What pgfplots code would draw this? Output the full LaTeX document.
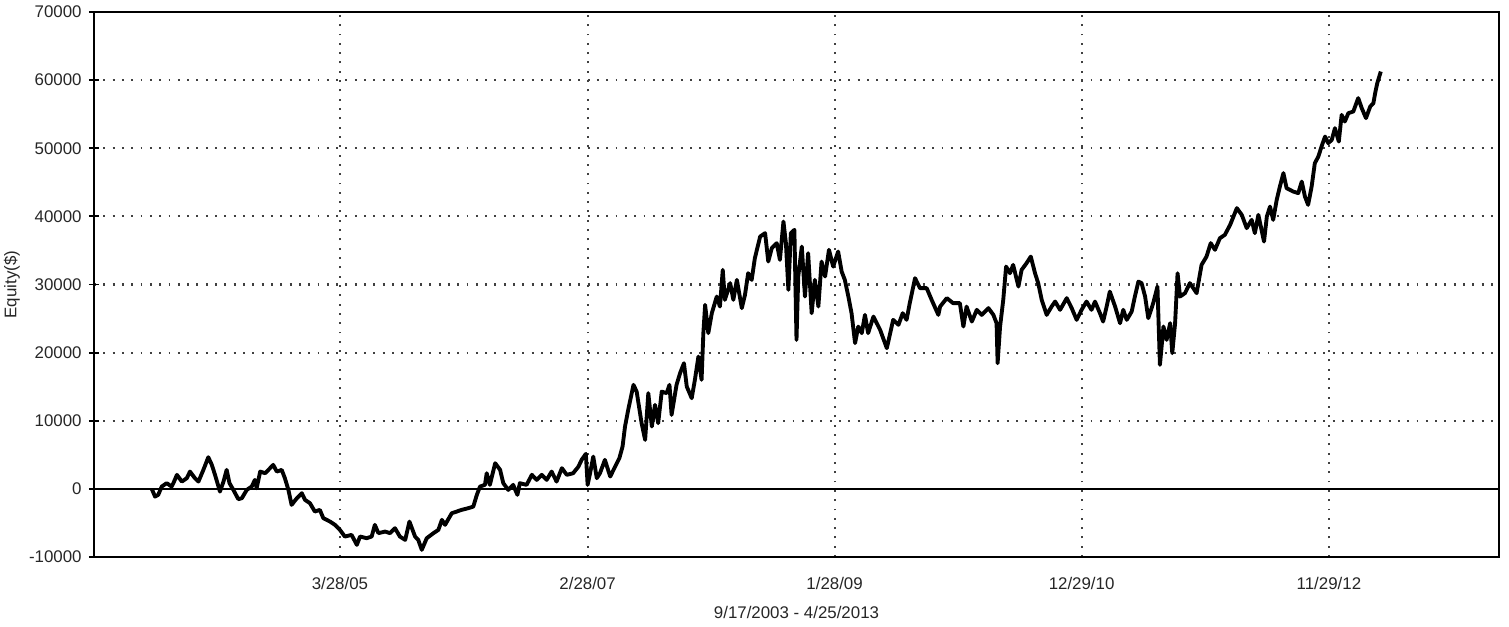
\documentclass[border=0pt]{standalone}
\usepackage{fontspec}
\setmainfont{Liberation Sans}
\usepackage{pgfplots}
\pgfplotsset{compat=1.18}

\begin{document}
\begin{tikzpicture}
% page size: 1509x626 px at 0.1 mm per px, axis box starts at (0,0)
\useasboundingbox (-0.94cm,-0.69cm) rectangle (14.15cm,5.57cm);
\begin{axis}[
    scale only axis,
    width=14.05cm, height=5.45cm,
    xmin=-139, xmax=3843,
    ymin=-10000, ymax=70000,
    axis line style={black, line width=0.55pt},
    xtick={558,1260,1960,2660,3361},
    xticklabels={3/28/05,2/28/07,1/28/09,12/29/10,11/29/12},
    xtick pos=bottom,
    major x tick style={draw=none},
    ytick={-10000,10000,20000,30000,40000,50000,60000,70000},
    yticklabels={-10000,10000,20000,30000,40000,50000,60000,70000},
    ytick pos=left,
    minor y tick num=1,
    tick align=center,
    major tick length=1mm,
    minor tick length=1mm,
    tick style={black, line width=0.5pt},
    extra y ticks={0},
    extra y tick labels={0},
    extra y tick style={grid=major, major grid style={solid, black, line width=0.6pt}},
    grid=major,
    major grid style={black!75, line width=0.6pt, dash pattern=on 0.55pt off 2.1pt},
    tick label style={font=\fontsize{4.8}{5.8}\selectfont, text=black!85},
    xticklabel style={yshift=-0.3mm},
    yticklabel style={xshift=0.5mm},
    xlabel={9/17/2003 - 4/25/2013},
    ylabel={Equity(\$)},
    every axis x label/.style={at={(axis description cs:0.5,-0.1009)}, anchor=center,
        font=\fontsize{4.8}{5.8}\selectfont, text=black!85},
    every axis y label/.style={at={(axis description cs:-0.0584,0.5)}, anchor=center, rotate=90,
        font=\fontsize{4.8}{5.8}\selectfont, text=black!85},
]
\addplot[black, line width=1.1pt, line join=round] coordinates {
(25,-40) (34,-1130) (43,-880) (53,340) (67,840) (81,340) (86,840) (96,2060)
(110,1070) (124,1570) (133,2540) (147,1570) (157,1070) (171,2790) (185,4650)
(195,3520) (204,2060) (218,-400) (228,1070) (237,2790) (245,840) (256,-150)
(270,-1510) (280,-1370) (294,-150) (308,340) (317,1320) (322,100) (332,2540)
(346,2300) (360,3040) (369,3520) (379,2540) (393,2790) (402,1570) (412,-150)
(421,-2350) (436,-1370) (450,-630) (459,-1610) (473,-2100) (487,-3330)
(501,-3080) (511,-4300) (530,-4800) (544,-5280) (558,-6020) (572,-7000)
(591,-6750) (606,-8220) (615,-7000) (634,-7240) (648,-7000) (657,-5280)
(667,-6500) (686,-6270) (700,-6500) (714,-5770) (728,-7000) (743,-7490)
(755,-4800) (771,-7000) (780,-7490) (790,-8950) (804,-7240) (823,-6500)
(837,-6020) (847,-4550) (856,-5280) (875,-3570) (889,-3330) (903,-3080)
(922,-2830) (936,-2600) (946,-880) (955,340) (969,590) (974,2300) (983,590)
(998,3770) (1012,2790) (1021,840) (1035,-150) (1049,590) (1061,-880)
(1068,840) (1087,590) (1102,2060) (1116,1320) (1130,2060) (1144,1320)
(1158,2540) (1172,1070) (1187,3040) (1201,2060) (1219,2300) (1234,3270)
(1243,4260) (1255,5140) (1260,590) (1267,2300) (1276,4740) (1286,1570)
(1295,2300) (1309,4260) (1324,1810) (1338,3270) (1350,4510) (1359,6210)
(1366,9150) (1375,11600) (1390,15270) (1399,14280) (1413,9640) (1423,7190)
(1432,14050) (1442,9150) (1451,12330) (1460,9640) (1470,14280) (1484,14050)
(1492,15270) (1498,10860) (1512,15270) (1522,16980) (1533,18450) (1541,15020)
(1555,13310) (1564,16000) (1574,19420) (1583,16000) (1588,22860) (1593,27010)
(1602,22860) (1612,25790) (1626,28230) (1635,26760) (1643,32150) (1649,27750)
(1664,30200) (1673,27750) (1683,30680) (1697,26530) (1706,28480) (1715,31660)
(1725,30680) (1734,33870) (1749,37040) (1763,37540) (1772,33370) (1782,35340)
(1796,36070) (1805,33620) (1815,39240) (1822,36070) (1829,29210) (1836,37540)
(1846,38020) (1852,21870) (1857,31170) (1867,35570) (1876,28230) (1885,34600)
(1895,25790) (1904,30680) (1914,26760) (1923,33370) (1933,31170) (1944,35090)
(1956,32630) (1970,34840) (1980,31900) (1989,30680) (1999,28230) (2008,25790)
(2018,21390) (2027,23830) (2037,22860) (2046,25540) (2055,22860) (2070,25290)
(2089,23340) (2108,20650) (2126,24810) (2141,24080) (2153,25790) (2164,24810)
(2173,27260) (2188,30930) (2202,29460) (2221,29460) (2235,27750) (2254,25540)
(2259,26760) (2278,28000) (2296,27260) (2315,27260) (2325,23830) (2334,26760)
(2349,24560) (2363,26280) (2377,25540) (2396,26530) (2410,25540) (2419,24320)
(2422,18450) (2429,23830) (2438,27750) (2446,32630) (2457,31660) (2466,32880)
(2481,29700) (2490,32150) (2504,33130) (2516,34100) (2528,31660) (2537,30200)
(2547,27750) (2561,25540) (2575,26760) (2585,27500) (2599,26280) (2618,28000)
(2632,26530) (2646,24810) (2660,26280) (2674,27500) (2688,26280) (2698,27500)
(2712,25790) (2721,24560) (2731,26760) (2740,28960) (2755,26760) (2769,24320)
(2778,26280) (2788,24810) (2802,26030) (2811,28230) (2821,30430) (2830,30200)
(2840,28230) (2849,25060) (2863,27260) (2875,29700) (2882,18200) (2892,23830)
(2901,21870) (2911,24320) (2917,19920) (2925,24320) (2932,31660) (2939,28230)
(2953,28730) (2967,30200) (2986,28730) (3000,32880) (3014,34100) (3026,36070)
(3038,35090) (3052,36800) (3066,37290) (3081,38760) (3100,41210) (3114,40220)
(3128,38270) (3142,39490) (3151,37540) (3161,40220) (3177,36300) (3185,39970)
(3194,41440) (3203,39490) (3213,42430) (3222,44380) (3232,46350) (3241,44140)
(3260,43640) (3274,43410) (3284,45110) (3293,42910) (3302,41690) (3312,44380)
(3321,47810) (3331,48780) (3340,50250) (3350,51720) (3359,50750) (3369,51230)
(3378,52950) (3389,50980) (3397,54900) (3406,53920) (3416,55150) (3430,55390)
(3444,57360) (3454,55890) (3466,54420) (3478,56120) (3487,56620) (3492,58090)
(3498,59560) (3508,61260)
};
\end{axis}
\end{tikzpicture}
\end{document}
